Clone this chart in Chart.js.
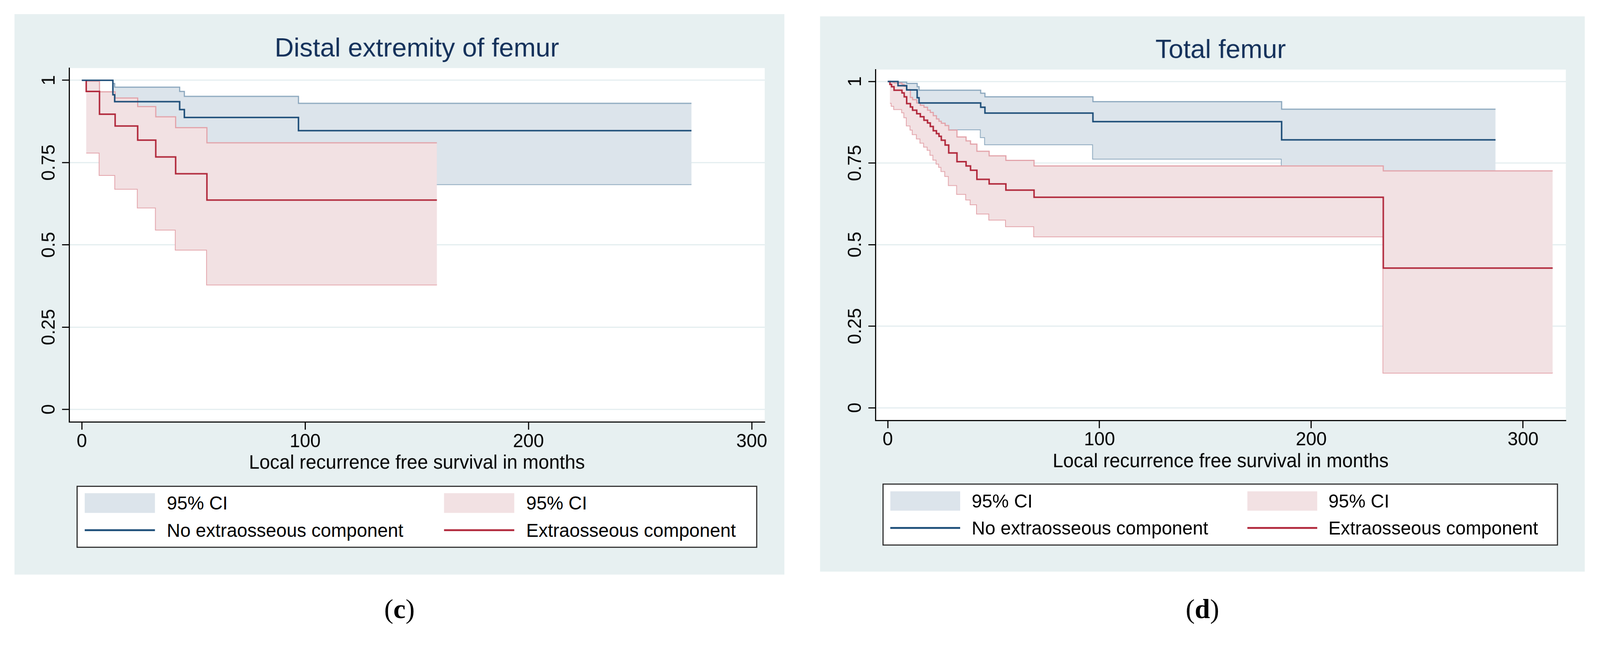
<!DOCTYPE html>
<html>
<head>
<meta charset="utf-8">
<script src="https://cdn.jsdelivr.net/npm/chart.js@4.4.1/dist/chart.umd.min.js"></script>
<style>
  html, body { margin: 0; padding: 0; background: #fff; overflow: hidden; }
  body { font-family: 'Liberation Sans', Arial, sans-serif; }
  #page { width: 4306px; height: 1702px; position: relative; transform-origin: 0 0; }
  .panel { position: absolute; background: #e7f0f1; }
  .panel canvas { position: absolute; left: 0; top: 0; }
  .legend { position: absolute; background: #fff; border: 3px solid #2b2b2b; box-sizing: border-box; }
  .legend .sw { position: absolute; }
  .legend .lbl { position: absolute; font-size: 50px; line-height: 50px; color: #000; white-space: nowrap; }
  .caption { position: absolute; font-family: 'Liberation Serif', 'Times New Roman', serif; font-size: 74px; color: #000; transform: translate(-50%, -50%); }
</style>
</head>
<body>
<div id="page">
<div class="panel" style="left:39px;top:38px;width:2072px;height:1508px;">
  <canvas id="chartC" width="2072" height="1240"></canvas>
  <div class="legend" id="legendC" style="left:167px;top:1269px;width:1832px;height:167px;"></div>
</div>
<div class="panel" style="left:2207px;top:44px;width:2058px;height:1494px;">
  <canvas id="chartD" width="2058" height="1230"></canvas>
  <div class="legend" id="legendD" style="left:168px;top:1257px;width:1818px;height:167px;"></div>
</div>
<div class="caption" style="left:1075px;top:1639px;">(<b>c</b>)</div>
<div class="caption" style="left:3236px;top:1639px;">(<b>d</b>)</div>
</div>

<script>
// shared axis ticks and labels
const xTickValues = [0, 100, 200, 300];
const yTickValues = [0, 0.25, 0.5, 0.75, 1];
const xAxisTitle = 'Local recurrence free survival in months';
const legendLabels = ['95% CI', '95% CI', 'No extraosseous component', 'Extraosseous component'];

// (c) Distal extremity of femur
const cNoExtTime = [0, 13.9, 14.7, 43.8, 45.9, 97.0, 273];
const cNoExtSurv = [1, 0.956, 0.935, 0.911, 0.887, 0.847, 0.847];
const cNoExtCiTime = [13.9, 14.7, 43.8, 45.9, 97.0, 273];
const cNoExtUpper = [0.990, 0.979, 0.966, 0.951, 0.930, 0.930];
const cNoExtLower = [0.820, 0.800, 0.770, 0.740, 0.684, 0.684];
const cExtTime = [0, 1.95, 7.9, 14.9, 25.0, 33.1, 42.0, 56.0, 159];
const cExtSurv = [1, 0.966, 0.897, 0.861, 0.818, 0.767, 0.716, 0.636, 0.636];
const cExtCiTime = [1.95, 7.9, 14.9, 25.0, 33.1, 42.0, 56.0, 159];
const cExtUpper = [0.997, 0.965, 0.946, 0.920, 0.889, 0.856, 0.810, 0.810];
const cExtLower = [0.780, 0.712, 0.670, 0.613, 0.546, 0.485, 0.379, 0.379];

// (d) Total femur
const dNoExtTime = [0, 4.85, 8.95, 13.9, 14.8, 43.9, 45.9, 96.9, 186.0, 287];
const dNoExtSurv = [1, 0.987, 0.974, 0.950, 0.934, 0.921, 0.903, 0.877, 0.821, 0.821];
const dNoExtCiTime = [4.85, 8.95, 13.9, 14.8, 43.9, 45.9, 96.9, 186.0, 287];
const dNoExtUpper = [0.998, 0.994, 0.984, 0.973, 0.964, 0.953, 0.938, 0.915, 0.915];
const dNoExtLower = [0.925, 0.905, 0.875, 0.853, 0.829, 0.807, 0.763, 0.700, 0.700];
const dExtTime = [0, 1.05, 1.81, 2.98, 6.73, 7.78, 8.95, 10.7, 11.75, 13.7, 15.4, 17.1, 18.8, 20.1, 21.5, 23.0, 24.2, 25.3, 27.1, 28.8, 32.7, 37.0, 39.1, 42.1, 47.9, 55.8, 69.1, 234, 314];
const dExtSurv = [1, 0.991, 0.984, 0.973, 0.965, 0.953, 0.932, 0.922, 0.912, 0.901, 0.892, 0.881, 0.873, 0.862, 0.849, 0.840, 0.832, 0.820, 0.805, 0.781, 0.754, 0.741, 0.728, 0.700, 0.686, 0.667, 0.645, 0.428, 0.428];
const dExtCiTime = [1.05, 1.81, 2.98, 6.73, 7.78, 8.95, 10.7, 11.75, 13.7, 15.4, 17.1, 18.8, 20.1, 21.5, 23.0, 24.2, 25.3, 27.1, 28.8, 32.7, 37.0, 39.1, 42.1, 47.9, 55.8, 69.1, 234, 314];
const dExtUpper = [0.999, 0.998, 0.995, 0.991, 0.985, 0.975, 0.951, 0.944, 0.934, 0.927, 0.921, 0.912, 0.905, 0.895, 0.885, 0.878, 0.872, 0.865, 0.851, 0.830, 0.818, 0.808, 0.786, 0.772, 0.758, 0.741, 0.726, 0.726];
const dExtLower = [0.934, 0.925, 0.915, 0.905, 0.890, 0.865, 0.852, 0.838, 0.825, 0.812, 0.800, 0.790, 0.775, 0.760, 0.748, 0.738, 0.725, 0.710, 0.682, 0.655, 0.638, 0.623, 0.595, 0.576, 0.556, 0.525, 0.107, 0.107];

// colours
const blueLine = '#1c4d78';
const blueEdge = '#88a5bc';
const blueFill = '#dce4eb';
const redLine = '#b1283b';
const redEdge = '#e3a1a8';
const redFill = '#f2e1e3';

// keep the 4306 px layout even if the viewport is narrower
const fitScale = Math.min(window.innerWidth / 4306, window.innerHeight / 1702);
if (fitScale < 0.995) {
    document.getElementById('page').style.transform = 'scale(' + fitScale + ')';
}

Chart.defaults.font.family = "'Liberation Sans', Arial, sans-serif";

const plotBackground = {
    id: 'plotBackground',
    beforeDraw(chart) {
        const a = chart.chartArea;
        chart.ctx.save();
        chart.ctx.fillStyle = '#ffffff';
        chart.ctx.fillRect(a.left, a.top, a.right - a.left, a.bottom - a.top);
        chart.ctx.restore();
    }
};

function pts(times, values) {
    return times.map((t, i) => ({ x: t, y: values[i] }));
}

function buildChart(canvasId, s) {
    const ctx = document.getElementById(canvasId).getContext('2d');
    return new Chart(ctx, {
        type: 'line',
        data: {
            datasets: [
                { label: legendLabels[2], data: pts(s.noExtTime, s.noExtSurv), borderColor: blueLine, borderWidth: 4, fill: false },
                { label: legendLabels[3], data: pts(s.extTime, s.extSurv), borderColor: redLine, borderWidth: 4, fill: false },
                { label: 'ext upper', data: pts(s.extCiTime, s.extUpper), borderColor: redEdge, borderWidth: 3, backgroundColor: redFill, fill: '+1' },
                { label: 'ext lower', data: pts(s.extCiTime, s.extLower), borderColor: redEdge, borderWidth: 4, fill: false },
                { label: 'noext upper', data: pts(s.noExtCiTime, s.noExtUpper), borderColor: blueEdge, borderWidth: 3, backgroundColor: blueFill, fill: '+1' },
                { label: 'noext lower', data: pts(s.noExtCiTime, s.noExtLower), borderColor: blueEdge, borderWidth: 4, fill: false }
            ]
        },
        options: {
            responsive: false,
            animation: false,
            devicePixelRatio: 1,
            elements: {
                point: { radius: 0 },
                line: { stepped: true, tension: 0 }
            },
            layout: { padding: { left: 0, right: s.padRight, top: 0, bottom: 0 } },
            plugins: {
                legend: { display: false },
                tooltip: { enabled: false },
                title: {
                    display: true,
                    fullSize: false,
                    text: s.title,
                    color: '#13305a',
                    font: { size: 71, weight: 'normal' },
                    padding: { top: s.titleTop, bottom: s.titleBottom }
                }
            },
            scales: {
                x: {
                    type: 'linear',
                    min: s.xMin,
                    max: s.xMax,
                    afterBuildTicks: axis => { axis.ticks = xTickValues.map(v => ({ value: v })); },
                    afterFit: axis => { axis.height = 143; },
                    grid: { drawOnChartArea: false, tickLength: 21, tickColor: '#000', tickWidth: 3 },
                    border: { display: true, color: '#000', width: 3 },
                    ticks: { color: '#000', font: { size: 50 }, padding: s.xTickPad, maxRotation: 0, autoSkip: false },
                    title: { display: true, text: xAxisTitle, color: '#000', font: { size: 51 }, padding: 0 }
                },
                y: {
                    type: 'linear',
                    min: s.yMin,
                    max: s.yMax,
                    afterBuildTicks: axis => { axis.ticks = yTickValues.map(v => ({ value: v })); },
                    afterFit: axis => { axis.width = s.yWidth; },
                    grid: { color: '#e3edef', lineWidth: 3, tickLength: 19, tickColor: '#000', tickWidth: 3 },
                    border: { display: true, color: '#000', width: 3 },
                    ticks: {
                        color: '#000',
                        font: { size: 50 },
                        minRotation: 90,
                        maxRotation: 90,
                        crossAlign: 'center',
                        padding: -15,
                        autoSkip: false,
                        callback: v => String(v)
                    }
                }
            }
        },
        plugins: [plotBackground]
    });
}

function buildLegend(id, p) {
    const box = document.getElementById(id);
    const items = [
        { kind: 'area', color: blueFill, label: legendLabels[0], col: 0, row: 0 },
        { kind: 'area', color: redFill, label: legendLabels[1], col: 1, row: 0 },
        { kind: 'line', color: blueLine, label: legendLabels[2], col: 0, row: 1 },
        { kind: 'line', color: redLine, label: legendLabels[3], col: 1, row: 1 }
    ];
    items.forEach(it => {
        const sw = document.createElement('div');
        sw.className = 'sw';
        sw.style.left = p.swLeft[it.col] + 'px';
        sw.style.width = p.swWidth + 'px';
        sw.style.background = it.color;
        if (it.kind === 'area') {
            sw.style.top = (p.rowY[it.row] - p.swHeight / 2) + 'px';
            sw.style.height = p.swHeight + 'px';
        } else {
            sw.style.top = (p.rowY[it.row] - 2.5) + 'px';
            sw.style.height = '5px';
        }
        box.appendChild(sw);
        const lbl = document.createElement('div');
        lbl.className = 'lbl';
        lbl.textContent = it.label;
        lbl.style.left = p.textLeft[it.col] + 'px';
        lbl.style.top = (p.rowY[it.row] - 24) + 'px';
        box.appendChild(lbl);
    });
}

buildChart('chartC', {
    title: 'Distal extremity of femur',
    noExtTime: cNoExtTime, noExtSurv: cNoExtSurv, noExtCiTime: cNoExtCiTime, noExtUpper: cNoExtUpper, noExtLower: cNoExtLower,
    extTime: cExtTime, extSurv: cExtSurv, extCiTime: cExtCiTime, extUpper: cExtUpper, extLower: cExtLower,
    xMin: -5.7, xMax: 305.8, yMin: -0.038, yMax: 1.037,
    yWidth: 147, padRight: 53, titleTop: 52, titleBottom: 8, xTickPad: 3
});

buildChart('chartD', {
    title: 'Total femur',
    noExtTime: dNoExtTime, noExtSurv: dNoExtSurv, noExtCiTime: dNoExtCiTime, noExtUpper: dNoExtUpper, noExtLower: dNoExtLower,
    extTime: dExtTime, extSurv: dExtSurv, extCiTime: dExtCiTime, extUpper: dExtUpper, extLower: dExtLower,
    xMin: -5.8, xMax: 320.2, yMin: -0.0387, yMax: 1.0364,
    yWidth: 149, padRight: 51, titleTop: 50, titleBottom: 8, xTickPad: 2
});

buildLegend('legendC', { swLeft: [19, 986], textLeft: [240, 1207], rowY: [43, 116], swWidth: 189, swHeight: 53 });
buildLegend('legendD', { swLeft: [18, 979], textLeft: [237, 1197], rowY: [44, 116], swWidth: 188, swHeight: 52 });
</script>
</body>
</html>
